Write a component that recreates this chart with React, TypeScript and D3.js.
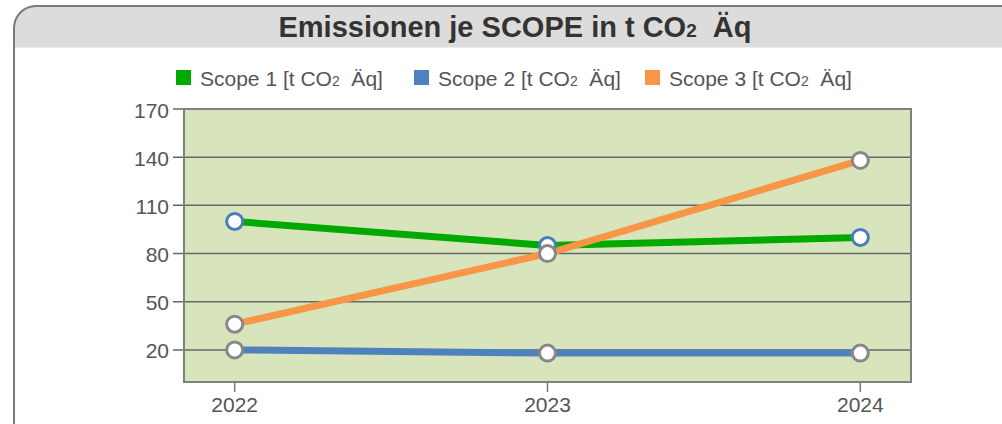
import React from "react";
import * as d3 from "d3";

const years = ["2022", "2023", "2024"];
const scope1 = [100, 85, 90];
const scope2 = [20, 18, 18];
const scope3 = [36, 80, 138];
const yTicks = [20, 50, 80, 110, 140, 170];
const seriesNames = ["Scope 1", "Scope 2", "Scope 3"];

const W = 1002;
const H = 424;
const plot = { left: 184, right: 911, top: 109, bottom: 382 };

export default function App() {
  const x = d3
    .scalePoint<string>()
    .domain(years)
    .range([plot.left, plot.right])
    .padding(0.162);
  const y = d3.scaleLinear().domain([0, 170]).range([plot.bottom, plot.top]);
  const line = d3
    .line<number>()
    .x((_, i) => x(years[i]) as number)
    .y((d) => y(d));

  const series = [
    { name: seriesNames[0], values: scope1, color: "#00aa00", marker: "#4a7ebb" },
    { name: seriesNames[1], values: scope2, color: "#4f81bd", marker: "#888888" },
    { name: seriesNames[2], values: scope3, color: "#f79646", marker: "#888888" },
  ];
  const legendX = [176, 414, 645];
  const font = "'Liberation Sans', Arial, Helvetica, sans-serif";

  return (
    <svg
      width={W}
      height={H}
      style={{ position: "absolute", left: 0, top: 0, fontFamily: font }}
    >
      <defs>
        <clipPath id="titleClip">
          <rect x={0} y={0} width={W} height={47.5} />
        </clipPath>
      </defs>
      {/* frame */}
      <rect x={14} y={6} width={1010} height={460} rx={22} ry={22} fill="#ffffff" />
      <rect
        x={14}
        y={6}
        width={1010}
        height={460}
        rx={22}
        ry={22}
        fill="#dcdcdc"
        clipPath="url(#titleClip)"
      />
      <rect
        x={14}
        y={6}
        width={1010}
        height={460}
        rx={22}
        ry={22}
        fill="none"
        stroke="#7a7a7a"
        strokeWidth={2}
      />
      <text x={515} y={37} textAnchor="middle" fontSize={29} fontWeight="bold" fill="#333333">
        Emissionen je SCOPE in t CO
        <tspan fontSize={19}>2</tspan>
        <tspan>{"\u00a0\u00a0Äq"}</tspan>
      </text>

      {/* legend */}
      {series.map((s, i) => (
        <g key={s.name}>
          <rect x={legendX[i]} y={70} width={15} height={15} fill={s.color} />
          <text x={legendX[i] + 24} y={86} fontSize={21} fill="#555555">
            {s.name} [t CO
            <tspan fontSize={14}>2</tspan>
            <tspan>{"\u00a0\u00a0Äq]"}</tspan>
          </text>
        </g>
      ))}

      {/* plot background */}
      <rect
        x={plot.left}
        y={plot.top}
        width={plot.right - plot.left}
        height={plot.bottom - plot.top}
        fill="#d8e4bc"
      />
      {/* grid + y ticks */}
      {yTicks.map((t) => (
        <g key={t}>
          <line
            x1={173}
            x2={plot.right}
            y1={y(t)}
            y2={y(t)}
            stroke="#666666"
            strokeWidth={1.5}
          />
          <text
            x={169}
            y={y(t) + 8.5}
            textAnchor="end"
            fontSize={21}
            fill="#555555"
          >
            {t}
          </text>
        </g>
      ))}
      {/* x ticks */}
      {years.map((yr) => (
        <g key={yr}>
          <line
            x1={x(yr)}
            x2={x(yr)}
            y1={plot.bottom}
            y2={plot.bottom + 10}
            stroke="#777777"
            strokeWidth={1.5}
          />
          <text x={x(yr)} y={412} textAnchor="middle" fontSize={21} fill="#555555">
            {yr}
          </text>
        </g>
      ))}
      {/* plot border */}
      <rect
        x={plot.left}
        y={plot.top}
        width={plot.right - plot.left}
        height={plot.bottom - plot.top}
        fill="none"
        stroke="#808080"
        strokeWidth={2}
      />

      {/* lines */}
      {series.map((s) => (
        <path
          key={s.name}
          d={line(s.values) as string}
          fill="none"
          stroke={s.color}
          strokeWidth={7}
        />
      ))}
      {/* markers */}
      {series.map((s) =>
        s.values.map((v, i) => (
          <circle
            key={s.name + i}
            cx={x(years[i])}
            cy={y(v)}
            r={8}
            fill="#ffffff"
            stroke={s.marker}
            strokeWidth={3}
          />
        ))
      )}
    </svg>
  );
}
